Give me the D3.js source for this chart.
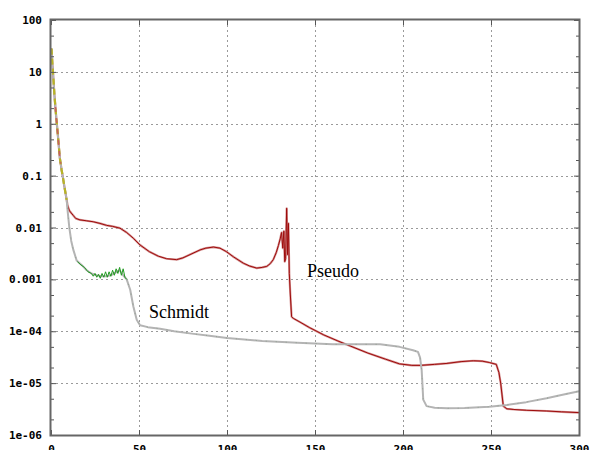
<!DOCTYPE html>
<html>
<head>
<meta charset="utf-8">
<script src="https://cdn.jsdelivr.net/npm/d3@7"></script>
<style>
  html, body { margin: 0; padding: 0; background: #fff; }
  svg { display: block; }
  .tick text { font-family: "DejaVu Sans Mono", monospace; font-weight: bold; font-size: 11px; fill: #000; }
  .note { font-family: "Liberation Serif", "Times New Roman", serif; font-size: 18px; fill: #000; }
</style>
</head>
<body>
<svg id="chart" width="592" height="450"></svg>
<script>
// Tick values and labels
const xTicks = [0, 50, 100, 150, 200, 250, 300];
const yTicks = [100, 10, 1, 0.1, 0.01, 0.001, 1e-4, 1e-5, 1e-6];
const yTickLabels = ["100", "10", "1", "0.1", "0.01", "0.001", "1e-04", "1e-05", "1e-06"];

// Common steep start of both runs
const headX = [0.3, 0.8, 1.2, 1.6, 2.0, 2.5, 3.0, 3.5, 4.0, 4.5, 5.0, 5.5, 6.0, 6.6, 7.2, 7.8, 8.4, 8.9];
const headY = [28, 14, 9, 5.5, 3.4, 2.1, 1.3, 0.85, 0.55, 0.35, 0.22, 0.17, 0.13, 0.1, 0.075, 0.056, 0.043, 0.034];

// Schmidt run
const schmidtX = [9.5, 10.4, 11.5, 12.7, 14.6, 17.4, 20.3, 23, 26, 29, 31.6, 34, 37.3, 39, 41, 43, 45, 46.8, 48.7, 50.6,
  55, 62, 70, 80, 90, 100, 120, 140, 160, 180, 187, 198, 205.7, 208.5, 209.7, 210.6, 211.5, 213.4, 218, 225, 235,
  249, 259, 270, 281.6, 290, 300];
const schmidtY = [0.02, 0.01, 0.0055, 0.0037, 0.0023, 0.0019, 0.0015, 0.0013, 0.0012, 0.00115, 0.00115, 0.0012, 0.0014,
  0.0015, 0.0012, 0.001, 0.00063, 0.0003, 0.000166, 0.00013,
  1.2e-4, 1.12e-4, 1.0e-4, 9.0e-5, 8.2e-5, 7.4e-5, 6.5e-5, 6.0e-5, 5.6e-5, 5.6e-5, 5.6e-5, 5.0e-5, 4.3e-5, 4.0e-5,
  3.1e-5, 1.8e-5, 4.8e-6, 3.6e-6, 3.35e-6, 3.27e-6, 3.3e-6, 3.5e-6, 3.8e-6, 4.3e-6, 5.1e-6, 5.9e-6, 7.0e-6];

// Jagged companion trace of the Schmidt run in the plateau
const schmidtAltX = [15, 17, 19, 21, 23, 24, 25, 26, 27, 28, 29, 30, 31, 32, 33, 34, 35, 36, 37, 38, 39, 40, 41, 42, 43];
const schmidtAltY = [0.0022, 0.0019, 0.0017, 0.0014, 0.0013, 0.00115, 0.0013, 0.0011, 0.00125, 0.00105, 0.0013, 0.0011,
  0.0014, 0.0011, 0.0014, 0.00115, 0.0015, 0.0012, 0.0016, 0.0013, 0.0017, 0.0012, 0.0016, 0.0011, 0.001];

// Pseudo run
const pseudoX = [9.5, 10.5, 11.5, 12.7, 14, 16.5, 20, 24, 27.8, 31.6, 35, 39.2, 43, 46.8, 50.6, 56, 61, 65.7, 71.4, 75,
  79, 84.7, 88, 92.3, 96, 99.8, 103.8, 109.3, 113, 116.9, 120, 122.6, 124.5, 126.3, 128, 129.2, 130.2, 131, 131.7,
  132.3, 132.8, 133.3, 133.9, 134.4, 134.9, 135.4, 136, 136.7, 137.7, 141.5, 147, 155, 163, 170, 180, 190, 198, 205,
  210, 218, 225, 233, 240, 245, 249, 253, 254.5, 255.5, 257, 259, 263, 270, 281.6, 290, 300];
const pseudoY = [0.026, 0.021, 0.019, 0.017, 0.015, 0.014, 0.0135, 0.0129, 0.012, 0.011, 0.0105, 0.0097, 0.008, 0.0062,
  0.0046, 0.0034, 0.0028, 0.0025, 0.0024, 0.0026, 0.003, 0.0037, 0.004, 0.0042, 0.004, 0.0034, 0.0027, 0.00205, 0.0018,
  0.00165, 0.0017, 0.00178, 0.002, 0.0024, 0.0033, 0.0045, 0.006, 0.008, 0.004, 0.0085, 0.0022, 0.0025, 0.0235, 0.003,
  0.012, 0.0013, 5e-4, 1.9e-4, 1.77e-4, 1.5e-4, 1.17e-4, 8.5e-5, 6.5e-5, 5.2e-5, 3.8e-5, 2.9e-5, 2.35e-5, 2.2e-5,
  2.2e-5, 2.3e-5, 2.4e-5, 2.6e-5, 2.7e-5, 2.65e-5, 2.5e-5, 2.3e-5, 1.6e-5, 1.0e-5, 3.6e-6, 3.2e-6, 3.1e-6, 3.0e-6,
  2.9e-6, 2.8e-6, 2.7e-6];

const svg = d3.select("#chart");
const mLeft = 51, mRight = 579, mTop = 20, mBottom = 435;

const x = d3.scaleLinear().domain([0, 300]).range([mLeft, mRight]);
const y = d3.scaleLog().domain([1e-6, 100]).range([mBottom, mTop]);

const minorY = [];
for (let e = -6; e < 2; e++) { minorY.push(2 * Math.pow(10, e), 5 * Math.pow(10, e)); }

// dotted grid
const grid = svg.append("g").attr("stroke", "#9a9a9a").attr("stroke-width", 1).attr("stroke-dasharray", "2,3");
grid.selectAll(".gx").data(xTicks.slice(1, -1)).join("line")
  .attr("x1", d => Math.round(x(d)) + 0.5).attr("x2", d => Math.round(x(d)) + 0.5)
  .attr("y1", mTop).attr("y2", mBottom);
grid.selectAll(".gy").data(yTicks.slice(1, -1)).join("line")
  .attr("y1", d => Math.round(y(d)) + 0.5).attr("y2", d => Math.round(y(d)) + 0.5)
  .attr("x1", mLeft).attr("x2", mRight);

// curves
const pts = (xs, ys) => xs.map((v, i) => [v, ys[i]]);
const line = d3.line().x(d => x(d[0])).y(d => y(d[1]));
const plot = svg.append("g").attr("fill", "none").attr("stroke-linejoin", "round");

const head = pts(headX, headY);
const schmidt = head.concat(pts(schmidtX, schmidtY));
const pseudo = head.concat(pts(pseudoX, pseudoY));

plot.append("path").datum(pseudo).attr("d", line).attr("stroke", "#d49494").attr("stroke-width", 2.2);
plot.append("path").datum(pseudo).attr("d", line).attr("stroke", "#9e0b0b").attr("stroke-width", 1);
plot.append("path").datum(schmidt).attr("d", line).attr("stroke", "#b4b4b4").attr("stroke-width", 2);
plot.append("path").datum(schmidt).attr("d", line).attr("stroke", "#8a9a8a").attr("stroke-width", 0.8)
  .attr("stroke-dasharray", "1,9");
plot.append("path").datum(pts(schmidtAltX, schmidtAltY)).attr("d", line).attr("stroke", "#1f9a1f").attr("stroke-width", 1);
plot.append("path").datum(head).attr("d", line).attr("stroke", "#b8b424").attr("stroke-width", 2.2)
  .attr("stroke-dasharray", "6,4");
plot.append("path").datum(head.slice(5, 12)).attr("d", line).attr("stroke", "#c86060").attr("stroke-width", 1.6)
  .attr("stroke-dasharray", "5,6");

// axes: major ticks with labels, minor ticks inward
const axisStyle = g => {
  g.select(".domain").remove();
  g.selectAll(".tick line").attr("stroke", "#555").attr("stroke-width", 1);
};
svg.append("g").attr("transform", `translate(${mLeft},0)`)
  .call(d3.axisLeft(y).tickValues(yTicks).tickFormat((d, i) => yTickLabels[i]).tickSize(-5).tickPadding(9))
  .call(axisStyle);
svg.append("g").attr("transform", `translate(${mLeft},0)`)
  .call(d3.axisLeft(y).tickValues(minorY).tickFormat("").tickSize(-3)).call(axisStyle);
svg.append("g").attr("transform", `translate(${mRight},0)`)
  .call(d3.axisRight(y).tickValues(yTicks).tickFormat("").tickSize(-5)).call(axisStyle);
svg.append("g").attr("transform", `translate(${mRight},0)`)
  .call(d3.axisRight(y).tickValues(minorY).tickFormat("").tickSize(-3)).call(axisStyle);
svg.append("g").attr("transform", `translate(0,${mBottom})`)
  .call(d3.axisBottom(x).tickValues(xTicks).tickFormat(d3.format("d")).tickSize(-5).tickPadding(10))
  .call(axisStyle);
svg.append("g").attr("transform", `translate(0,${mTop})`)
  .call(d3.axisTop(x).tickValues(xTicks).tickFormat("").tickSize(-5)).call(axisStyle);

// frame
svg.append("rect").attr("x", mLeft - 0.5).attr("y", mTop - 0.5)
  .attr("width", mRight - mLeft + 1).attr("height", mBottom - mTop + 1)
  .attr("fill", "none").attr("stroke", "#666").attr("stroke-width", 2);

// run labels
svg.append("text").attr("class", "note").attr("x", 307).attr("y", 277).text("Pseudo");
svg.append("text").attr("class", "note").attr("x", 149).attr("y", 318).text("Schmidt");
</script>
</body>
</html>
